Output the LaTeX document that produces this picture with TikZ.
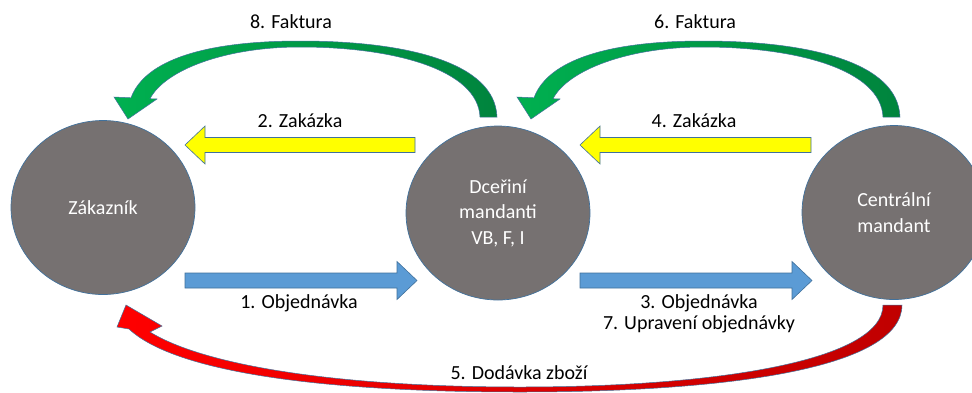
\documentclass[tikz,border=0pt]{standalone}
\usepackage{fontspec}
\setmainfont{Carlito}
\usetikzlibrary{shapes.geometric}
\definecolor{disc}{HTML}{767171}
\definecolor{edgeblue}{HTML}{41719C}
\definecolor{ordblue}{HTML}{5B9BD5}
\definecolor{ordyellow}{HTML}{FFFF00}
\definecolor{greenlight}{HTML}{00B050}
\definecolor{greendark}{HTML}{00843D}
\definecolor{redlight}{HTML}{FF0000}
\definecolor{reddark}{HTML}{C00000}

% straight block arrow: #1 tail x, #2 tip x, #3 centre y, #4 fill colour
\newcommand{\flatarrow}[4]{%
  \pgfmathsetmacro\headback{#2 - 20*sign(#2-#1)}%
  \filldraw[fill=#4, draw=edgeblue, line width=0.6pt]
    (#1,#3-7.5) -- (\headback,#3-7.5) -- (\headback,#3-19) -- (#2,#3)
    -- (\headback,#3+19) -- (\headback,#3+7.5) -- (#1,#3+7.5) -- cycle;}

\begin{document}
\begin{tikzpicture}[x=1pt,y=-1pt,
  party/.style={ellipse, fill=disc, draw=edgeblue, line width=0.7pt,
    minimum width=184pt, minimum height=174pt, inner sep=0pt,
    text=white, align=center, font=\fontsize{20}{25.5}\selectfont},
  caption/.style={font=\fontsize{20}{21}\selectfont, align=center, inner sep=0pt},
  greenflow/.style={left color=greenlight, right color=greendark,
    draw=edgeblue, line width=0.5pt},
  redflow/.style={left color=redlight, right color=reddark,
    draw=edgeblue, line width=0.5pt}]
\useasboundingbox[fill=white] (0,0) rectangle (972,392);

% the three parties
\node[party] (zak) at (103,207.5) {Zákazník};
\node[party] (dcer) at (498,213) {Dceřiní\\mandanti\\VB, F, I};
\node[party] (cent) at (894,212.5) {Centrální\\mandant};

% orders (blue) and confirmations (yellow)
\flatarrow{415}{185}{145}{ordyellow}
\flatarrow{811}{580}{145}{ordyellow}
\flatarrow{185}{417}{280.5}{ordblue}
\flatarrow{580}{812}{280.5}{ordblue}

% invoices (green curved arrows)
\shadedraw[greenflow]
  (497,117) .. controls (495,62) and (405,41) .. (300,41)
  .. controls (205,41) and (145,60) .. (131,97.8)
  -- (114,97) -- (128,119) -- (157,99) -- (150,98.7)
  .. controls (165,70) and (225,47) .. (300,47)
  .. controls (395,47) and (478,70) .. (480,117) -- cycle;
\begin{scope}[xshift=403pt]
\shadedraw[greenflow]
  (497,117) .. controls (495,62) and (405,41) .. (300,41)
  .. controls (205,41) and (145,60) .. (131,97.8)
  -- (114,97) -- (128,119) -- (157,99) -- (150,98.7)
  .. controls (165,70) and (225,47) .. (300,47)
  .. controls (395,47) and (478,70) .. (480,117) -- cycle;
\end{scope}

% delivery of goods (red curved arrow)
\shadedraw[redflow]
  (902,305) .. controls (902,368) and (730,392) .. (520,392)
  .. controls (320,392) and (175,372) .. (129,329)
  -- (117,327) -- (126,305) -- (162,326) -- (150,332)
  .. controls (205,366) and (340,387) .. (520,387)
  .. controls (710,387) and (883,362) .. (883,305) -- cycle;

% step labels
\node[caption] (l8) at (291,22) {8. Faktura};
\node[caption] (l6) at (695,22) {6. Faktura};
\node[caption] (l2) at (300,121) {2. Zakázka};
\node[caption] (l4) at (694,121) {4. Zakázka};
\node[caption] (l1) at (299,303) {1. Objednávka};
\node[caption] (l37) at (699,313.5) {3. Objednávka\\7. Upravení objednávky};
\node[caption] (l5) at (519,373) {5. Dodávka zboží};
\end{tikzpicture}
\end{document}
